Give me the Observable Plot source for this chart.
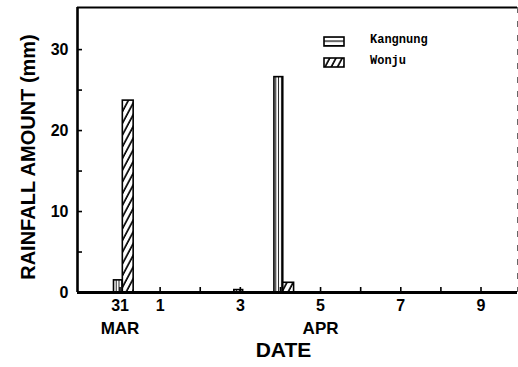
<!DOCTYPE html>
<html><head><meta charset="utf-8">
<script src="https://cdn.jsdelivr.net/npm/d3@7"></script>
<script src="https://cdn.jsdelivr.net/npm/@observablehq/plot@0.6"></script>
<style>
body{margin:0;background:#fff}
#wrap{position:relative;width:518px;height:367px}
.lg{position:absolute;font:bold 12px 'Liberation Mono',monospace;color:#000}
.sw{position:absolute}
</style>
</head><body><div id="wrap"></div>
<script>
// ---- data ----
const dayIndex = [0, 1, 2, 3, 4, 5, 6, 7, 8, 9];            // 31 Mar .. 9 Apr
const dayLabels = ["31", "1", "2", "3", "4", "5", "6", "7", "8", "9"];
const labeledDays = [0, 1, 3, 5, 7, 9];
const monthNames = ["MAR", "APR"];
const monthAt = [0, 5];
const kangnung = [1.5, 0, 0, 0.3, 26.6, 0, 0, 0, 0, 0];
const wonju = [23.7, 0, 0, 0, 1.2, 0, 0, 0, 0, 0];
const yTicks = [0, 5, 10, 15, 20, 25, 30];
const yLabels = [0, 10, 20, 30];
const seriesNames = ["Kangnung", "Wonju"];

// ---- layout ----
const W = 518, H = 367, mL = 77, mR = 1, mT = 7, mB = 75;
const xDom = [-1.06, 9.91], yDom = [0, 35.2];
const pxX = (W - mL - mR) / (xDom[1] - xDom[0]);
const pxY = (H - mT - mB) / (yDom[1] - yDom[0]);
const tickLen = 5;

const rows = dayIndex.map((d, i) => ({day: d, kang: kangnung[i], won: wonju[i]}));
const font = "'Liberation Sans', Arial, sans-serif";

const chart = Plot.plot({
  width: W, height: H,
  marginLeft: mL, marginRight: mR, marginTop: mT, marginBottom: mB,
  style: {fontFamily: font, color: "#000", background: "#fff"},
  x: {type: "linear", domain: xDom, axis: null},
  y: {type: "linear", domain: yDom, axis: null},
  marks: [
    // bars
    Plot.rect(rows.filter(d => d.kang > 0), {
      x1: d => d.day - 0.15, x2: d => d.day + 0.07, y1: 0, y2: "kang",
      fill: "url(#vhatch)", stroke: "#000", strokeWidth: 1.6
    }),
    Plot.rect(rows.filter(d => d.won > 0), {
      x1: d => d.day + 0.07, x2: d => d.day + 0.34, y1: 0, y2: "won",
      fill: "url(#dhatch)", stroke: "#000", strokeWidth: 1.6
    }),
    // frame
    Plot.ruleY([yDom[1]], {stroke: "#000", strokeWidth: 2.2}),
    Plot.ruleX([xDom[1]], {stroke: "#000", strokeWidth: 1, strokeDasharray: "6,8", strokeOpacity: 0.6}),
    Plot.ruleX([xDom[0]], {stroke: "#000", strokeWidth: 2.6}),
    Plot.ruleY([0], {stroke: "#000", strokeWidth: 3}),
    // inward ticks
    Plot.ruleX(dayIndex, {x: d => d, y1: 0, y2: tickLen / pxY, stroke: "#000", strokeWidth: 1.6}),
    Plot.ruleY(yTicks, {y: d => d, x1: xDom[0], x2: xDom[0] + tickLen / pxX, stroke: "#000", strokeWidth: 1.6}),
    // tick labels
    Plot.axisX(labeledDays, {tickSize: 0, tickPadding: 7, tickFormat: d => dayLabels[d],
      fontSize: 16, fontWeight: "bold"}),
    Plot.axisX(monthAt, {tickSize: 0, tickPadding: 29, tickFormat: d => monthNames[monthAt.indexOf(d)],
      fontSize: 17, fontWeight: "bold"}),
    Plot.axisY(yLabels, {tickSize: 0, tickPadding: 9, fontSize: 16, fontWeight: "bold"}),
    // axis titles
    Plot.text(["DATE"], {frameAnchor: "bottom", dx: -14, dy: 64, fontSize: 21, fontWeight: "bold"}),
    Plot.text(["RAINFALL AMOUNT (mm)"], {frameAnchor: "left", textAnchor: "middle", rotate: -90, dx: -49, dy: 7,
      fontSize: 20, fontWeight: "bold"})
  ]
});

// pattern definitions
const ns = "http://www.w3.org/2000/svg";
const defs = document.createElementNS(ns, "defs");
defs.innerHTML = `
  <pattern id="vhatch" patternUnits="userSpaceOnUse" width="2.8" height="10">
    <rect width="2.8" height="10" fill="#fff"/>
    <line x1="1.4" y1="0" x2="1.4" y2="10" stroke="#000" stroke-width="0.9"/>
  </pattern>
  <pattern id="dhatch" patternUnits="userSpaceOnUse" width="5.5" height="10" patternTransform="rotate(28)">
    <rect width="5.5" height="10" fill="#fff"/>
    <line x1="1" y1="0" x2="1" y2="10" stroke="#000" stroke-width="1.7"/>
  </pattern>
  <pattern id="hhatch" patternUnits="userSpaceOnUse" width="10" height="4.5">
    <rect width="10" height="4.5" fill="#fff"/>
    <line x1="0" y1="0.5" x2="10" y2="0.5" stroke="#000" stroke-width="1.4"/>
  </pattern>`;
chart.insertBefore(defs, chart.firstChild);

const wrap = document.getElementById("wrap");
wrap.appendChild(chart);

// legend overlay
const legend = [
  {name: seriesNames[0], fill: "url(#hhatch)", top: 36},
  {name: seriesNames[1], fill: "url(#dhatch)", top: 57}
];
for (const item of legend) {
  const sw = document.createElementNS(ns, "svg");
  sw.setAttribute("class", "sw");
  sw.setAttribute("width", 24); sw.setAttribute("height", 12);
  sw.style.left = "323px"; sw.style.top = item.top + "px";
  sw.innerHTML = `<rect x="1" y="1" width="20" height="9" fill="${item.fill}" stroke="#000" stroke-width="1.6"/>`;
  wrap.appendChild(sw);
  const t = document.createElement("div");
  t.className = "lg"; t.textContent = item.name;
  t.style.left = "370px"; t.style.top = (item.top - 3) + "px";
  wrap.appendChild(t);
}
</script>
</body></html>
